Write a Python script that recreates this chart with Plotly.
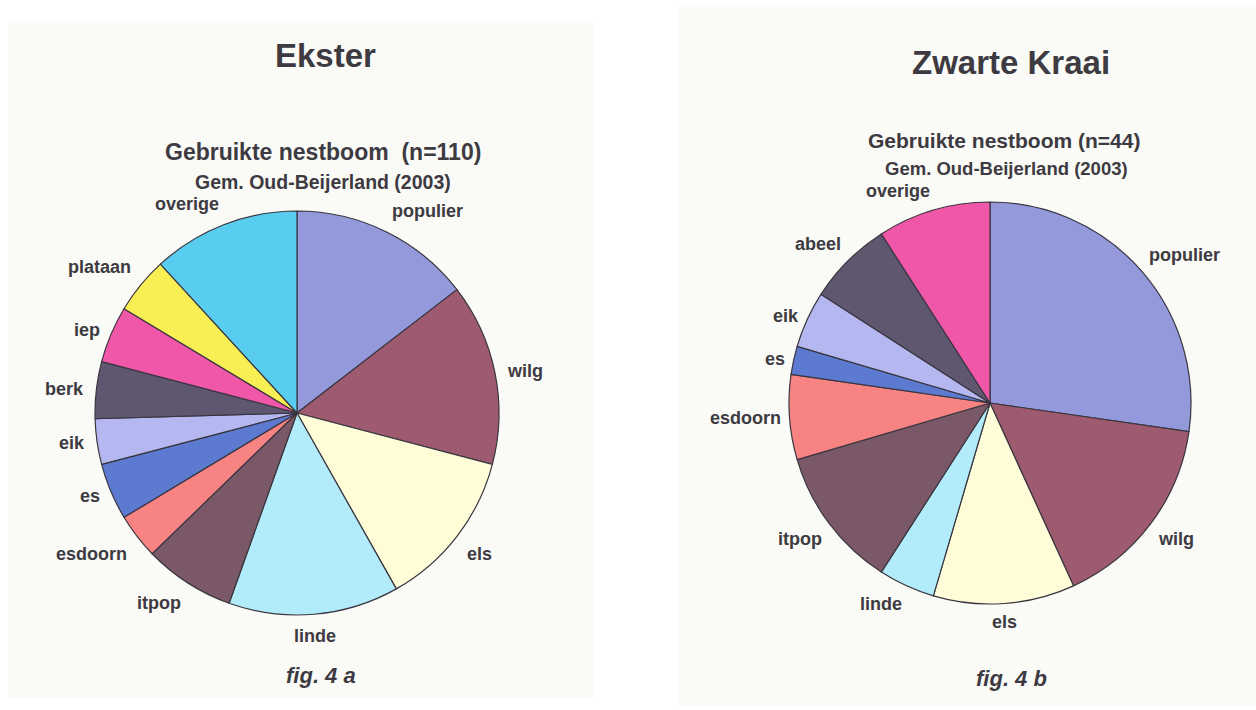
import numpy as np
import plotly.graph_objects as go

# Ekster (n=110)
ekster_labels = ["populier", "wilg", "els", "linde", "itpop", "esdoorn",
                 "es", "eik", "berk", "iep", "plataan", "overige"]
ekster_counts = [16, 16, 14, 15, 8, 4, 5, 4, 5, 5, 5, 13]

# Zwarte Kraai (n=44)
kraai_labels = ["populier", "wilg", "els", "linde", "itpop", "esdoorn",
                "es", "eik", "abeel", "overige"]
kraai_counts = [12, 7, 5, 2, 5, 3, 1, 2, 3, 4]

tree_colors = {
    "populier": "#9499DC",
    "wilg": "#9E5A6E",
    "els": "#FEFDD8",
    "linde": "#B2ECFA",
    "itpop": "#7A5867",
    "esdoorn": "#F78383",
    "es": "#5B7AD0",
    "eik": "#B5B7F0",
    "berk": "#5F576F",
    "abeel": "#5F576F",
    "iep": "#F057A8",
    "plataan": "#F8EF55",
}
overige_colors = {"ekster": "#58CDF0", "kraai": "#F057A8"}

TEXT = "#3d3a42"
FONT = "Liberation Sans, Arial, sans-serif"

W, H = 1256, 710


def px_x(v):
    return v / W


def px_y(v):
    return 1 - v / H


def make_pie(labels, counts, overige_color, cx, cy, r):
    colors = [tree_colors.get(l, overige_color) for l in labels]
    return go.Pie(
        labels=labels,
        values=counts,
        sort=False,
        direction="clockwise",
        rotation=0,
        marker=dict(colors=colors, line=dict(color="#3a3640", width=1.2)),
        textinfo="none",
        domain=dict(x=[px_x(cx - r), px_x(cx + r)], y=[px_y(cy + r), px_y(cy - r)]),
        showlegend=False,
        hoverinfo="label+value",
    )


def slice_labels(labels, counts, cx, cy, r, gap=11):
    # excel-like outside labels: box corner touches a point just outside the rim
    counts = np.array(counts, dtype=float)
    mids = (np.cumsum(counts) - counts / 2) / counts.sum() * 2 * np.pi
    out = []
    for lab, a in zip(labels, mids):
        s, c = np.sin(a), np.cos(a)
        x = cx + (r + gap) * s
        y = cy - (r + gap) * c
        xa = "left" if s > 0.2 else ("right" if s < -0.2 else "center")
        ya = "bottom" if c > 0.5 else ("top" if c < -0.5 else "middle")
        out.append(dict(
            text=lab, x=px_x(x), y=px_y(y), xref="paper", yref="paper",
            showarrow=False, xanchor=xa, yanchor=ya, borderpad=0,
            font=dict(family=FONT, size=18, color=TEXT, weight="bold"),
        ))
    return out


fig = go.Figure()
fig.add_trace(make_pie(ekster_labels, ekster_counts, overige_colors["ekster"], 297, 413, 202))
fig.add_trace(make_pie(kraai_labels, kraai_counts, overige_colors["kraai"], 990, 403, 201))

# cream panels behind each chart
shapes = [
    dict(type="rect", xref="paper", yref="paper", x0=px_x(8), x1=px_x(593),
         y0=px_y(698), y1=px_y(23), fillcolor="#FAFAF6", line=dict(width=0), layer="below"),
    dict(type="rect", xref="paper", yref="paper", x0=px_x(679), x1=px_x(1256),
         y0=px_y(706), y1=px_y(5), fillcolor="#FAFAF6", line=dict(width=0), layer="below"),
]


def note(text, x, y, size, italic=False):
    return dict(
        text=text, x=px_x(x), y=px_y(y), xref="paper", yref="paper",
        showarrow=False, xanchor="center", yanchor="middle",
        font=dict(family=FONT, size=size, color=TEXT, weight="bold",
                  style="italic" if italic else "normal"),
    )


annotations = [
    note("Ekster", 325, 55, 33),
    note("Gebruikte nestboom  (n=110)", 323, 152, 23),
    note("Gem. Oud-Beijerland (2003)", 323, 182, 19.5),
    note("fig. 4 a", 321, 675, 22, italic=True),
    note("Zwarte Kraai", 1011, 63, 33),
    note("Gebruikte nestboom (n=44)", 1004, 141, 21),
    note("Gem. Oud-Beijerland (2003)", 1006, 168, 18.5),
    note("fig. 4 b", 1011, 678, 22, italic=True),
]
annotations += slice_labels(ekster_labels, ekster_counts, 297, 413, 202)
annotations += slice_labels(kraai_labels, kraai_counts, 990, 403, 201, gap=8)

fig.update_layout(
    width=W,
    height=H,
    margin=dict(l=0, r=0, t=0, b=0),
    paper_bgcolor="white",
    plot_bgcolor="white",
    shapes=shapes,
    annotations=annotations,
)

fig.write_html(
    "out.html",
    config={"displayModeBar": False},
    post_script="document.body.style.margin='0';",
)
